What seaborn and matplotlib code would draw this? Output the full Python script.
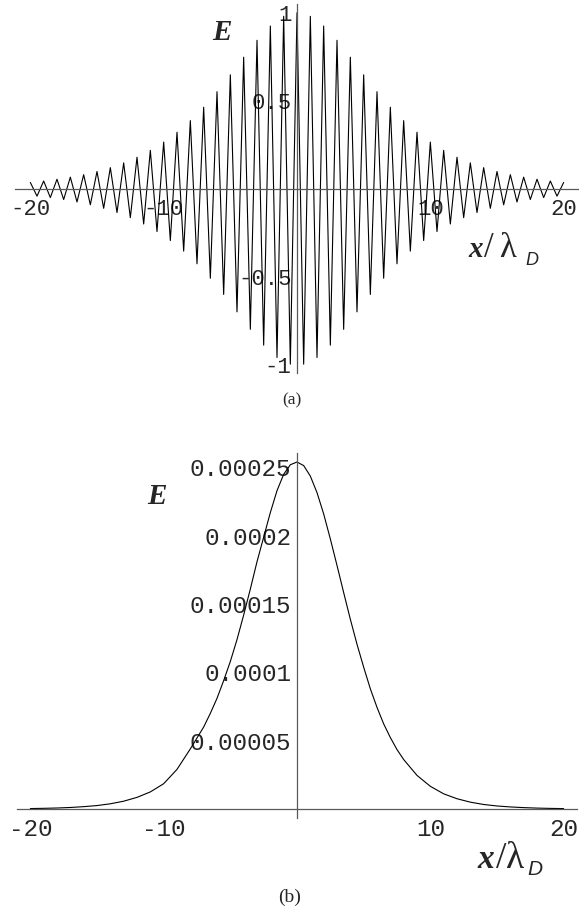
import numpy as np
import pandas as pd
import matplotlib
matplotlib.use("Agg")
import matplotlib.pyplot as plt
import seaborn as sns
from matplotlib.ticker import MultipleLocator

# (a) crest / trough heights of E, read at x = 0, 0.5, 1, ..., 20 (the packet is symmetric)
crest_x = np.arange(0, 20.5, 0.5)
crest_amp = [1.000, 0.995, 0.980, 0.957, 0.925, 0.887, 0.844, 0.797, 0.748, 0.698,
             0.648, 0.599, 0.552, 0.507, 0.464, 0.425, 0.388, 0.353, 0.322, 0.293,
             0.266, 0.242, 0.219, 0.199, 0.180, 0.163, 0.148, 0.134, 0.121, 0.110,
             0.099, 0.090, 0.081, 0.074, 0.067, 0.060, 0.055, 0.049, 0.045, 0.041,
             0.037]

# (b) envelope E
env_x = [-20, -19, -18, -17, -16, -15, -14, -13, -12, -11, -10, -9,
         -8, -7.5, -7, -6.5, -6, -5.5, -5, -4.5, -4, -3.5, -3, -2.5, -2, -1.5, -1, -0.5,
         0, 0.5, 1, 1.5, 2, 2.5, 3, 3.5, 4, 4.5, 5, 5.5, 6, 6.5, 7, 7.5, 8,
         9, 10, 11, 12, 13, 14, 15, 16, 17, 18, 19, 20]
env_E = [3.2e-7, 4.8e-7, 7.2e-7, 1.1e-6, 1.7e-6, 2.5e-6, 3.8e-6, 5.7e-6, 8.5e-6, 1.25e-5, 1.85e-5, 2.9e-5,
         4.4e-5, 5.2e-5, 6.0e-5, 7.0e-5, 8.1e-5, 9.4e-5, 1.08e-4, 1.24e-4, 1.42e-4, 1.61e-4, 1.81e-4, 1.99e-4, 2.17e-4, 2.33e-4, 2.45e-4, 2.52e-4,
         2.54e-4, 2.514e-4, 2.437e-4, 2.316e-4, 2.16e-4, 1.977e-4, 1.783e-4, 1.584e-4, 1.389e-4, 1.206e-4, 1.038e-4, 8.8e-5, 7.44e-5, 6.23e-5, 5.23e-5, 4.35e-5, 3.62e-5,
         2.46e-5, 1.66e-5, 1.11e-5, 7.5e-6, 5.0e-6, 3.3e-6, 2.2e-6, 1.5e-6, 1.0e-6, 6.5e-7, 4.3e-7, 2.9e-7]

xticks = [-20, -10, 10, 20]
xtick_labels = ['-20', '-10', '10', '20']
yticks_a = [-1, -0.5, 0.5, 1]
ytick_labels_a = ['-1', '-0.5', '0.5', '1']
yticks_b = [0.00005, 0.0001, 0.00015, 0.0002, 0.00025]
ytick_labels_b = ['0.00005', '0.0001', '0.00015', '0.0002', '0.00025']

# build the full crest sequence: mirror to x < 0, alternate sign (crests at integer x)
xa = np.concatenate([-crest_x[::-1], crest_x[1:]])
amp = np.concatenate([np.array(crest_amp)[::-1], np.array(crest_amp)[1:]])
sign = np.where(np.round(2 * xa).astype(int) % 2 == 0, 1.0, -1.0)
df_a = pd.DataFrame({'x': xa, 'E': amp * sign})
df_b = pd.DataFrame({'x': env_x, 'E': env_E})

sns.set_style('white')
plt.rcParams['font.family'] = ['Liberation Mono', 'DejaVu Sans Mono']
plt.rcParams['axes.unicode_minus'] = False

W, H = 579, 916
fig = plt.figure(figsize=(W / 100, H / 100), dpi=100)
serif = ['Liberation Serif', 'DejaVu Serif']


def px(x, y):
    return x / W, 1 - y / H


def mma_axes(ax, fs, xpad, ypad):
    for s in ['top', 'right']:
        ax.spines[s].set_visible(False)
    for s in ['left', 'bottom']:
        ax.spines[s].set_position(('data', 0))
        ax.spines[s].set_color('0.35')
        ax.spines[s].set_linewidth(0.9)
    ax.set_xticks(xticks, xtick_labels)
    ax.xaxis.set_minor_locator(MultipleLocator(2))
    ax.tick_params(axis='x', which='major', direction='in', length=3.0, width=0.8,
                   color='0.35', labelsize=fs, pad=xpad)
    ax.tick_params(axis='x', which='minor', direction='in', length=2.0, width=0.7, color='0.35')
    ax.tick_params(axis='y', which='major', direction='in', length=3.6, width=0.8,
                   color='0.35', labelsize=fs, pad=ypad)
    ax.tick_params(axis='y', which='minor', direction='in', length=2.6, width=0.7, color='0.35')
    ax.set_xlabel('')
    ax.set_ylabel('')
    ax.patch.set_alpha(0)


def axis_label(x0, base, fs, slash_x, lam_x, lam_fs, sub_x, sub_base, sub_fs):
    fig.text(*px(x0, base), 'x', family=serif, weight='bold', style='italic',
             fontsize=fs, ha='left', va='baseline')
    fig.text(*px(slash_x, base), '/', family=serif, fontsize=lam_fs,
             ha='left', va='baseline')
    fig.text(*px(lam_x, base), 'λ', family=serif, fontsize=lam_fs,
             ha='left', va='baseline')
    fig.text(*px(sub_x, sub_base), 'D', family='Liberation Sans', style='italic',
             fontsize=sub_fs, ha='left', va='baseline')


# (a)
ax1 = fig.add_axes([15 / W, 1 - 373 / H, 564 / W, 369 / H])
sns.lineplot(data=df_a, x='x', y='E', ax=ax1, color='black', linewidth=0.8,
             estimator=None, sort=False)
ax1.lines[0].set_solid_joinstyle('round')
ax1.set_xlim(-21.15, 21.15)
ax1.set_ylim(-1.045, 1.05)
mma_axes(ax1, 16, 7, 4)
ax1.set_yticks(yticks_a, ytick_labels_a)
ax1.yaxis.set_minor_locator(MultipleLocator(0.1))

fig.text(*px(222, 32), 'E', family=serif, weight='bold', style='italic',
         fontsize=21, ha='center', va='center')
axis_label(468, 257, 21, 484, 499, 25, 525, 265, 13)
fig.text(*px(292, 400), '(a)', family=serif, fontsize=12.5, ha='center', va='center')

# (b)
ax2 = fig.add_axes([17 / W, 1 - 818 / H, 560 / W, 365 / H])
sns.lineplot(data=df_b, x='x', y='E', ax=ax2, color='black', linewidth=0.8,
             estimator=None, sort=False)
ax2.set_xlim(-21.0, 21.0)
ax2.set_ylim(-6.6e-6, 2.606e-4)
mma_axes(ax2, 17.5, 6.3, 4)
ax2.set_yticks(yticks_b, ytick_labels_b)
ax2.yaxis.set_minor_locator(MultipleLocator(0.00001))

fig.text(*px(157, 497), 'E', family=serif, weight='bold', style='italic',
         fontsize=21, ha='center', va='center')
axis_label(477, 868, 24, 496, 506, 27, 527, 875, 15)
fig.text(*px(290, 897), '(b)', family=serif, fontsize=14, ha='center', va='center')

fig.savefig('out.png', dpi=100)
